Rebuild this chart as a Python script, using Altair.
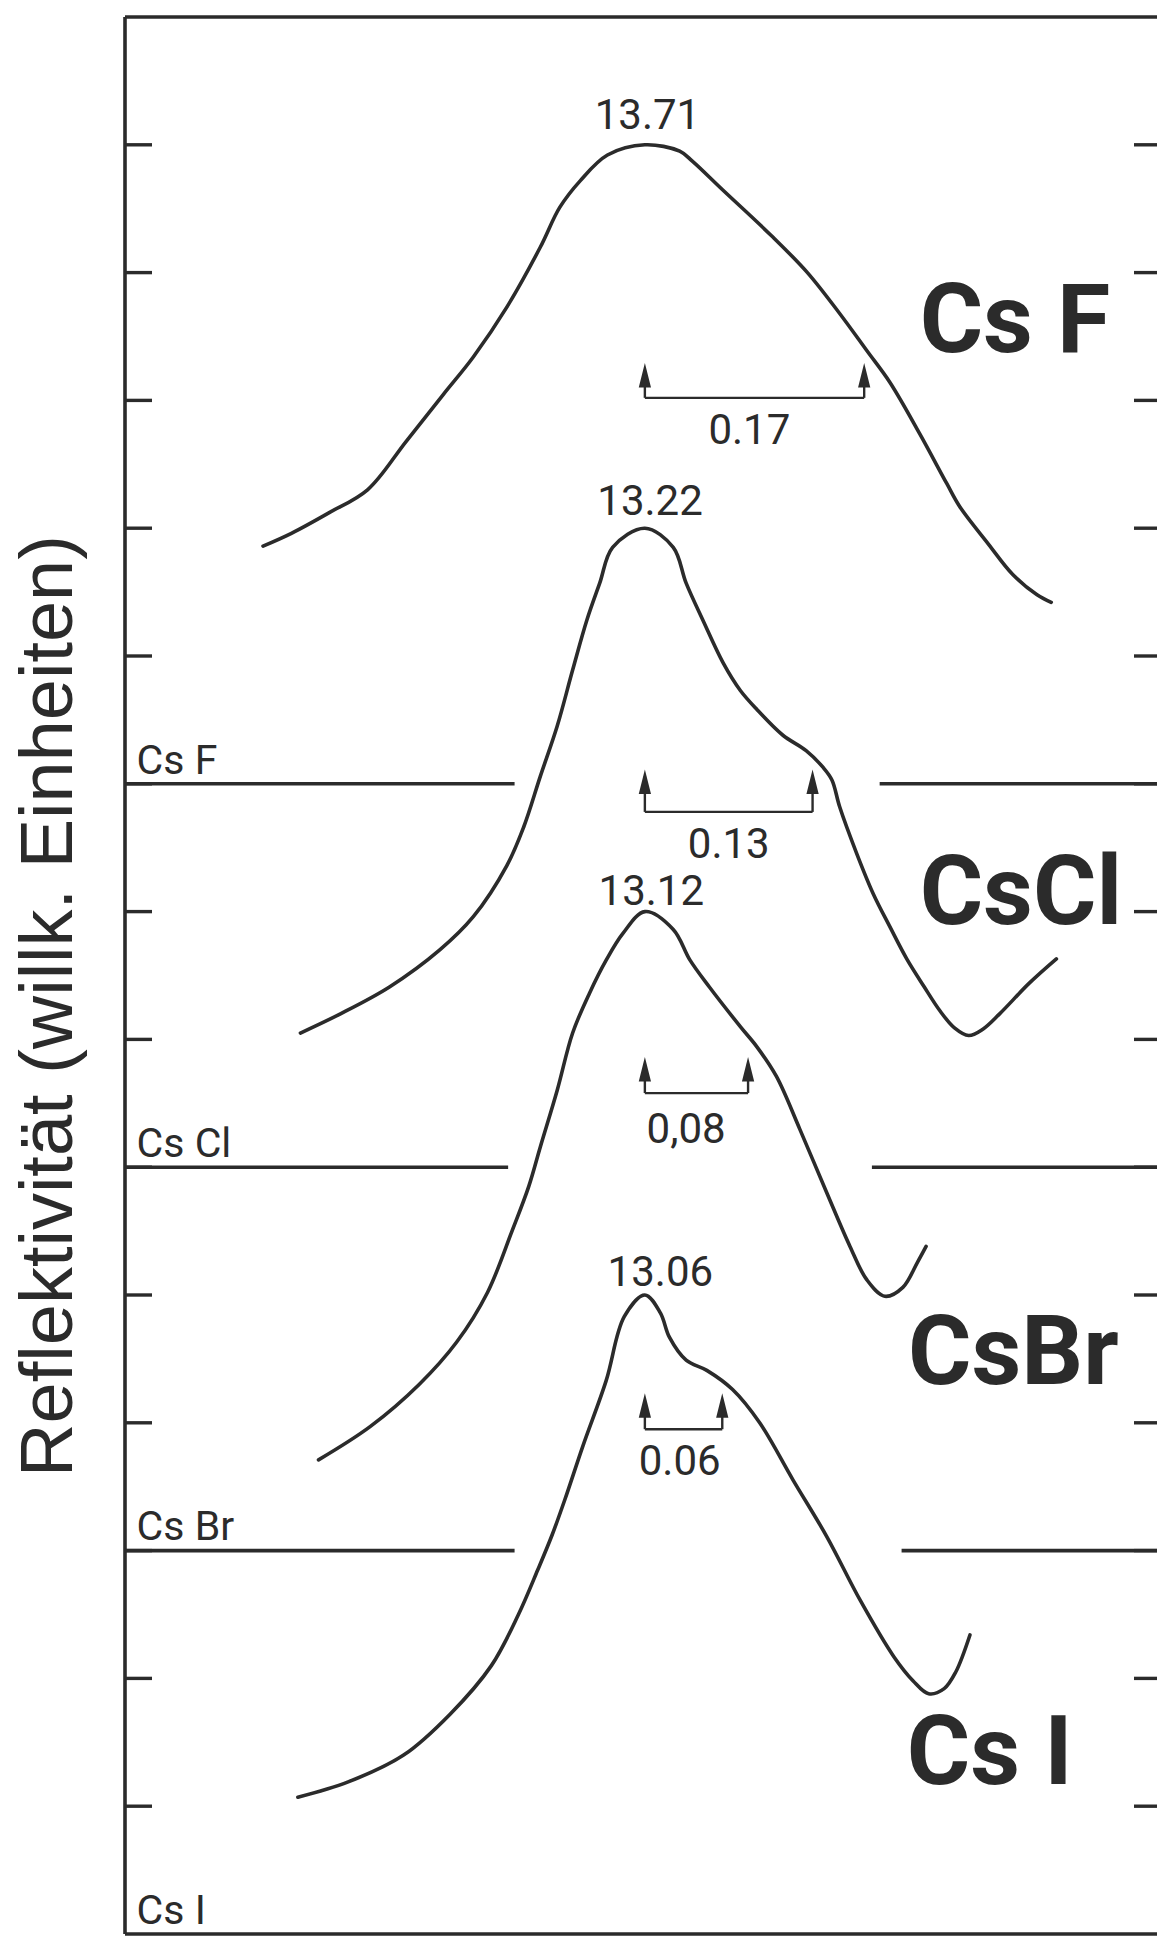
import altair as alt
import pandas as pd

# Reflectivity of the caesium halides near the Cs 5p core-exciton maximum.
# Energies are relative to each maximum (eV); reflectivity is given above the
# curve's own zero line, in the arbitrary units of the tick spacing.
CSF_DE = [-0.296, -0.274, -0.245, -0.215, -0.185, -0.156, -0.133, -0.107, -0.081,
          -0.066, -0.050, -0.029, 0.0, 0.027, 0.037, 0.060, 0.099, 0.126, 0.151,
          0.172, 0.190, 0.213, 0.234, 0.244, 0.266, 0.285, 0.304, 0.315]
CSF_R = [1.86, 1.96, 2.12, 2.30, 2.68, 3.05, 3.34, 3.73, 4.20,
         4.51, 4.72, 4.92, 5.0, 4.95, 4.87, 4.65, 4.28, 4.00, 3.68,
         3.39, 3.14, 2.74, 2.35, 2.17, 1.88, 1.64, 1.48, 1.42]

CSCL_DE = [-0.267, -0.236, -0.198, -0.159, -0.133, -0.107, -0.094, -0.081, -0.068,
           -0.056, -0.045, -0.035, -0.025, 0.0, 0.022, 0.032, 0.045, 0.061, 0.074,
           0.087, 0.107, 0.125, 0.138, 0.145, 0.151, 0.164, 0.177, 0.190, 0.203,
           0.216, 0.229, 0.240, 0.251, 0.262, 0.275, 0.298, 0.319]
CSCL_R = [1.05, 1.20, 1.41, 1.70, 1.96, 2.36, 2.66, 3.06, 3.45,
          3.89, 4.28, 4.57, 4.85, 5.0, 4.85, 4.57, 4.28, 3.94, 3.73,
          3.58, 3.38, 3.26, 3.13, 3.03, 2.82, 2.46, 2.14, 1.88, 1.63,
          1.42, 1.22, 1.09, 1.03, 1.08, 1.20, 1.44, 1.63]

CSBR_DE = [-0.253, -0.213, -0.175, -0.146, -0.122, -0.103, -0.090, -0.081, -0.068,
           -0.056, -0.043, -0.030, -0.017, 0.0, 0.022, 0.035, 0.050, 0.074, 0.087,
           0.102, 0.120, 0.141, 0.159, 0.172, 0.186, 0.200, 0.211, 0.218]
CSBR_R = [0.71, 0.97, 1.30, 1.63, 2.02, 2.50, 2.85, 3.16, 3.60,
          4.05, 4.36, 4.62, 4.83, 5.0, 4.86, 4.62, 4.41, 4.10, 3.94,
          3.71, 3.30, 2.80, 2.38, 2.12, 1.99, 2.06, 2.25, 2.38]

CSI_DE = [-0.269, -0.230, -0.187, -0.151, -0.119, -0.098, -0.083, -0.072, -0.062,
          -0.048, -0.030, -0.016, 0.0, 0.012, 0.019, 0.032, 0.048, 0.068, 0.089,
          0.115, 0.141, 0.167, 0.193, 0.208, 0.220, 0.232, 0.241, 0.252]
CSI_R = [1.07, 1.19, 1.40, 1.72, 2.10, 2.50, 2.85, 3.12, 3.40,
         3.82, 4.33, 4.83, 5.0, 4.86, 4.67, 4.49, 4.41, 4.26, 4.00,
         3.55, 3.11, 2.61, 2.17, 1.98, 1.88, 1.92, 2.05, 2.34]

COMPOUNDS = ["Cs F", "Cs Cl", "Cs Br", "Cs I"]
BIG_NAMES = ["Cs F", "CsCl", "CsBr", "Cs I"]
OFFSETS = [9, 6, 3, 0]
PEAK_LABELS = ["13.71", "13.22", "13.12", "13.06"]
SPLITTINGS = [0.17, 0.13, 0.08, 0.06]
SPLIT_LABELS = ["0.17", "0.13", "0,08", "0.06"]
TITLE = "Reflektivität (willk. Einheiten)"

# ---- layout of the annotations (data units) ----
PEAK_LABEL_X = [0.002, 0.004, 0.005, 0.012]
PEAK_LABEL_Y = [14.12, 11.10, 8.05, 5.07]
ARROW_TIP = [12.29, 9.11, 6.86, 4.23]
ARROW_BAR = [12.02, 8.78, 6.58, 3.95]
SPLIT_LABEL_X = [0.081, 0.065, 0.032, 0.027]
SPLIT_LABEL_Y = [11.66, 8.42, 6.19, 3.59]
NAME_X = [0.213, 0.213, 0.204, 0.203]
NAME_Y = [12.38, 7.90, 4.30, 1.17]
ZERO_GAPS = [(-0.101, 0.182), (-0.106, 0.176), (-0.101, 0.199)]  # Cs F, Cs Cl, Cs Br
TICKS = list(range(1, 15))

X_MIN, X_MAX = -0.403, 0.397
Y_MIN, Y_MAX = 0, 15
W, H = 1032, 1917
INK = "#2b2b2b"
LABEL_FONT = "Roboto, Liberation Sans, sans-serif"

xs = alt.Scale(domain=[X_MIN, X_MAX], nice=False, zero=False)
ys = alt.Scale(domain=[Y_MIN, Y_MAX], nice=False, zero=False)


def X(field):
    return alt.X(field, type="quantitative", scale=xs, axis=None)


def Y(field):
    return alt.Y(field, type="quantitative", scale=ys, axis=None)


# curves, each lifted onto its own zero line
series = [(CSF_DE, CSF_R), (CSCL_DE, CSCL_R), (CSBR_DE, CSBR_R), (CSI_DE, CSI_R)]
rows = []
for name, off, (de, r) in zip(COMPOUNDS, OFFSETS, series):
    for a, b in zip(de, r):
        rows.append({"compound": name, "de": a, "r": b + off})
curves = pd.DataFrame(rows)

lines = alt.Chart(curves).mark_line(
    interpolate="catmull-rom", color=INK, strokeWidth=3.6, strokeCap="round",
    strokeJoin="round"
).encode(x=X("de"), y=Y("r"), detail="compound:N")

# frame (left, top, bottom) and the zero lines of the upper three curves
seg_rows = [
    {"x": X_MIN, "x2": X_MAX, "y": Y_MAX, "y2": Y_MAX},
    {"x": X_MIN, "x2": X_MAX, "y": Y_MIN, "y2": Y_MIN},
    {"x": X_MIN, "x2": X_MIN, "y": Y_MIN, "y2": Y_MAX},
]
for off, (g1, g2) in zip(OFFSETS[:3], ZERO_GAPS):
    seg_rows.append({"x": X_MIN, "x2": g1, "y": off, "y2": off})
    seg_rows.append({"x": g2, "x2": X_MAX, "y": off, "y2": off})
segments = alt.Chart(pd.DataFrame(seg_rows)).mark_rule(
    color=INK, strokeWidth=3.6
).encode(x=X("x"), x2="x2:Q", y=Y("y"), y2="y2:Q")

tick_df = pd.DataFrame({"t": TICKS})
ticks_left = alt.Chart(tick_df).mark_rule(color=INK, strokeWidth=3.4).encode(
    x=alt.value(0), x2=alt.value(27), y=Y("t"))
ticks_right = alt.Chart(tick_df).mark_rule(color=INK, strokeWidth=3.4).encode(
    x=alt.value(W - 23), x2=alt.value(W), y=Y("t"))

# splitting arrows
stem_rows, bar_rows, head_rows = [], [], []
for s, tip, bar in zip(SPLITTINGS, ARROW_TIP, ARROW_BAR):
    for xv in (0.0, s):
        stem_rows.append({"x": xv, "y": bar, "y2": tip - 0.05})
        head_rows.append({"x": xv, "y": tip})
    bar_rows.append({"x": 0.0, "x2": s, "y": bar})
stems = alt.Chart(pd.DataFrame(stem_rows)).mark_rule(color=INK, strokeWidth=2.4).encode(
    x=X("x"), y=Y("y"), y2="y2:Q")
bars = alt.Chart(pd.DataFrame(bar_rows)).mark_rule(color=INK, strokeWidth=2.4).encode(
    x=X("x"), x2="x2:Q", y=Y("y"))
heads = alt.Chart(pd.DataFrame(head_rows)).mark_point(
    shape="M0,-1L0.5,1L-0.5,1Z", size=600, filled=True, color=INK,
    opacity=1, strokeWidth=0, yOffset=12
).encode(x=X("x"), y=Y("y"))

# texts
peak_df = pd.DataFrame({"x": PEAK_LABEL_X, "y": PEAK_LABEL_Y, "t": PEAK_LABELS})
peak_text = alt.Chart(peak_df).mark_text(
    font=LABEL_FONT, fontSize=42, color=INK, align="center", baseline="alphabetic"
).encode(x=X("x"), y=Y("y"), text="t:N")

split_df = pd.DataFrame({"x": SPLIT_LABEL_X, "y": SPLIT_LABEL_Y, "t": SPLIT_LABELS})
split_text = alt.Chart(split_df).mark_text(
    font=LABEL_FONT, fontSize=42, color=INK, align="center", baseline="alphabetic"
).encode(x=X("x"), y=Y("y"), text="t:N")

small_df = pd.DataFrame({"x": [-0.394] * 4, "y": [o + 0.08 for o in OFFSETS],
                         "t": COMPOUNDS})
small_text = alt.Chart(small_df).mark_text(
    font=LABEL_FONT, fontSize=41, color=INK, align="left", baseline="alphabetic"
).encode(x=X("x"), y=Y("y"), text="t:N")

big_df = pd.DataFrame({"x": NAME_X, "y": NAME_Y, "t": BIG_NAMES})
big_text = alt.Chart(big_df).mark_text(
    font=LABEL_FONT, fontSize=97, fontWeight="bold", color=INK, align="left",
    baseline="alphabetic"
).encode(x=X("x"), y=Y("y"), text="t:N")

title_text = alt.Chart(pd.DataFrame({"t": [TITLE]})).mark_text(
    font="Liberation Sans, Arial, sans-serif", fontSize=74, color=INK,
    angle=270, align="center", baseline="middle"
).encode(x=alt.value(-75), y=alt.value(989), text="t:N")

chart = alt.layer(
    segments, ticks_left, ticks_right, lines, stems, bars, heads,
    peak_text, split_text, small_text, big_text, title_text
).properties(
    width=W, height=H,
    autosize=alt.AutoSizeParams(type="none"),
    padding={"left": 125, "top": 17, "right": 0, "bottom": 3},
    background="white",
).configure_view(stroke=None)

chart.save("out.html", embed_options={"renderer": "svg", "actions": False})
